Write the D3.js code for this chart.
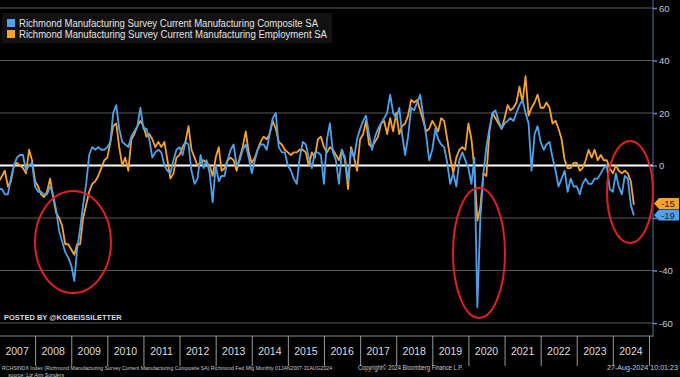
<!DOCTYPE html>
<html>
<head>
<meta charset="utf-8">
<script src="https://d3js.org/d3.v7.min.js"></script>
<style>
  body { margin: 0; background: #000; }
  svg { display: block; font-family: "Liberation Sans", Arial, sans-serif; }
</style>
</head>
<body>
<div id="chart"></div>
<script>
// ---- data ----
var years = d3.range(2007, 2025);
var yTicks = [60, 40, 20, 0, -20, -40, -60];
var seriesNames = [
  "Richmond Manufacturing Survey Current Manufacturing Composite SA",
  "Richmond Manufacturing Survey Current Manufacturing Employment SA"
];
// monthly, Jan 2007 - Aug 2024
var composite = [
  -9, -9, -11, -11, -5, 0, 3, 4, 4, -2, 0, 1,
  -8, -10, -10, -11, -11, -8, -11, -17, -25, -29, -33, -35,
  -38, -44, -32, -24, -15, -7, 4, 7, 6, 7, 6, 6,
  7, 9, 20, 23, 14, 9, 8, 7, 11, 13, 15, 22,
  14, 14, 10, 3, 5, 6, 5, 0, -2, -3, 2, 6,
  7, 4, 9, 8, -2, -7, -5, 4, -1, 2, -3, -14,
  0, -6, -4, -4, 2, 6, 8, 0, 2, 6, 8, 3,
  -3, 2, 6, 8, 8, 6, 12, 18, 20, 7, 5, 5,
  0, -2, -5, -7, 3, 9, 8, 3, -1, 5, 5, 4,
  -7, 10, 16, 5, 2, -7, 6, 3, -6, 6, 3, 10,
  14, 17, 19, 12, 6, 11, 14, 16, 18, 20, 27, 20,
  18, 22, 12, 4, 11, 22, 21, 24, 27, 19, 11, 2,
  6, 14, 10, 8, 7, 1, -7, -3, -8, 2, 5, 2,
  -1, -7, 3, -54, -20, -3, 7, 14, 20, 21, 17, 14,
  16, 17, 18, 17, 20, 23, 25, 20, 16, -2, 12, 15,
  9, 6, 8, 9, 3, -2, -8, -5, -2, -10, -5, -8,
  -8, -11, -7, -5, -7, -7, -5, -5, -3, -1, 0, -9,
  -10, -3, -8, -11, -4, -5, -15, -19
];
var employment = [
  -6, -4, -2, -8, -6, 0, 1, 0, -1, -3, 6, 2,
  -6, -8, -11, -12, -10, -5, -12, -18, -20, -23, -30, -30,
  -32, -34, -30, -30, -20, -15, -10, -7, -6, -4, -1, 2,
  3, 9, 15, 16, 7, 0, 3, -2, 10, 12, 15, 17,
  15, 11, 12, 10, 7, 9, 7, 9, 2, -5, -3, 3,
  4, 7, 9, 15, 6, 3, 0, 1, 2, 1, 0, -4,
  3, 7, -2, -1, 2, 3, 2, -2, 3, 7, 13, 5,
  1, 3, 6, 9, 11, 10, 12, 17, 14, 9, 8, 6,
  5, 4, 5, 5, 6, 6, 5, 0, 5, 3, 10, 11,
  7, 5, 7, 6, 4, 2, 6, 2, -9, 7, 3, -2,
  10, 12, 17, 8, 7, 9, 11, 16, 17, 12, 18, 13,
  20, 12, 15, 16, 19, 25, 24, 25, 21, 17, 13, 14,
  17, 15, 13, 18, 17, 10, 3, -3, 3, 6, 7, 6,
  16, 10, -1, -21, -16, -3, -4, 13, 20, 18, 16, 14,
  18, 23, 21, 22, 24, 30, 24, 34, 19, 22, 24, 27,
  22, 22, 24, 22, 16, 17, 14, 10, 2, -1, -1, 1,
  1, -2, -1, 2, 6, 3, 6, 2, 4, 2, 2, -1,
  -3, 0, -2, -3, -2, -3, -6, -15
];
var colors = ["#4ea2ec", "#f6a32c"];

// ---- chart ----
var width = 680, height = 377;
var svg = d3.select("#chart").append("svg")
  .attr("width", width).attr("height", height);

svg.append("rect").attr("width", width).attr("height", height).attr("fill", "#000");

var start = new Date(2007, 0, 1);
function monthDate(i) { return d3.timeMonth.offset(start, i); }

var x = d3.scaleTime()
  .domain([new Date(2007, 0, 1), new Date(2025, 0, 1)])
  .range([-1, 649]);
var y = d3.scaleLinear().domain([-60, 60]).range([323, 8]);
var yearBand = d3.scaleBand().domain(years).range([-1, 649]);

// grid
svg.append("g").selectAll("line")
  .data(yTicks.filter(function(d) { return d !== 0; }))
  .enter().append("line")
  .attr("x1", 0).attr("x2", 653)
  .attr("y1", function(d) { return y(d); }).attr("y2", function(d) { return y(d); })
  .attr("stroke", "#5a5a5a").attr("stroke-width", 1);

svg.append("line")
  .attr("x1", 0).attr("x2", 653)
  .attr("y1", y(0)).attr("y2", y(0))
  .attr("stroke", "#fff").attr("stroke-width", 2.2);

// right axis (the -20 label sits under the last-value tag)
var yAxis = svg.append("g")
  .attr("transform", "translate(653,0)")
  .call(d3.axisRight(y).tickValues(yTicks).tickSize(4).tickPadding(2)
    .tickFormat(function(d) { return d === -20 ? "" : String(d); }));
yAxis.select(".domain").attr("stroke", "#4b72b0").attr("d", "M0,0V337");
yAxis.selectAll(".tick line").attr("stroke", "#5b86cc").attr("stroke-width", 1.5);
yAxis.selectAll("text").attr("fill", "#c9c9c9").attr("font-size", 9.5);

// bottom axis: year separators + labels
svg.append("line").attr("x1", 0).attr("x2", 653).attr("y1", 336).attr("y2", 336)
  .attr("stroke", "#8a8a8a");
var xAxis = svg.append("g")
  .attr("transform", "translate(0,336)")
  .call(d3.axisBottom(x).ticks(d3.timeYear.every(1)).tickSize(30).tickFormat(""));
xAxis.select(".domain").remove();
xAxis.selectAll(".tick line").attr("stroke", "#9a9a9a");

var labelAxis = svg.append("g")
  .attr("transform", "translate(0,348)")
  .call(d3.axisBottom(yearBand).tickSize(0).tickPadding(0));
labelAxis.select(".domain").remove();
labelAxis.selectAll("text").attr("fill", "#dedede").attr("font-size", 10.5);

// lines
var line = d3.line()
  .x(function(d, i) { return x(monthDate(i)); })
  .y(function(d) { return y(d); });

svg.append("path")
  .datum(employment)
  .attr("fill", "none")
  .attr("stroke", colors[1])
  .attr("stroke-width", 1.8)
  .attr("stroke-linejoin", "round")
  .attr("d", line);
svg.append("path")
  .datum(composite)
  .attr("fill", "none")
  .attr("stroke", colors[0])
  .attr("stroke-width", 1.8)
  .attr("stroke-linejoin", "round")
  .attr("d", line);

// end value labels
var lastI = composite.length - 1;
var tags = [
  { v: employment[lastI], c: colors[1], cy: 203.5 },
  { v: composite[lastI], c: colors[0], cy: 215 }
];
tags.forEach(function(t) {
  var g = svg.append("g");
  g.append("path")
    .attr("d", "M654," + t.cy + "L659," + (t.cy - 5.5) + "H679V" + (t.cy + 5.5) + "H659Z")
    .attr("fill", t.c);
  g.append("text")
    .attr("x", 668).attr("y", t.cy + 3.5)
    .attr("text-anchor", "middle")
    .attr("font-size", 9.5)
    .attr("fill", "#1a1a1a")
    .text(t.v);
});

// legend
var lg = svg.append("g");
lg.append("rect").attr("x", 2).attr("y", 13).attr("width", 330).attr("height", 30)
  .attr("fill", "#121212");
seriesNames.forEach(function(n, i) {
  lg.append("rect").attr("x", 7).attr("y", 19 + i * 11).attr("width", 8).attr("height", 8)
    .attr("fill", colors[i]);
  lg.append("text").attr("x", 19).attr("y", 27 + i * 11)
    .attr("font-size", 10).attr("fill", "#e2e2e2")
    .attr("textLength", i === 0 ? 299 : 308).attr("lengthAdjust", "spacingAndGlyphs")
    .text(n);
});

// annotation ellipses
var rings = [
  { cx: 73, cy: 242, rx: 38, ry: 51 },
  { cx: 479, cy: 253, rx: 26, ry: 65 },
  { cx: 630, cy: 192, rx: 23, ry: 51 }
];
svg.append("g").selectAll("ellipse").data(rings).enter().append("ellipse")
  .attr("cx", function(d) { return d.cx; }).attr("cy", function(d) { return d.cy; })
  .attr("rx", function(d) { return d.rx; }).attr("ry", function(d) { return d.ry; })
  .attr("fill", "none").attr("stroke", "#e0201e").attr("stroke-width", 2);

// watermark
svg.append("text").attr("x", 4).attr("y", 320)
  .attr("font-size", 7.5).attr("font-weight", "bold").attr("fill", "#d4dae6")
  .text("POSTED BY @KOBEISSILETTER");

// footer
var foot = svg.append("g").attr("fill", "#cccccc");
foot.append("text").attr("x", 2).attr("y", 370).attr("font-size", 5.6)
  .attr("textLength", 330).attr("lengthAdjust", "spacingAndGlyphs")
  .text("RCHSINDX Index (Richmond Manufacturing Survey Current Manufacturing Composite SA) Richmond Fed Mfg  Monthly 01JAN2007-31AUG2024");
foot.append("text").attr("x", 358).attr("y", 370).attr("font-size", 6.3)
  .attr("textLength", 105).attr("lengthAdjust", "spacingAndGlyphs")
  .text("Copyright\u00a9 2024 Bloomberg Finance L.P.");
foot.append("text").attr("x", 607).attr("y", 370).attr("font-size", 6.5)
  .attr("textLength", 71).attr("lengthAdjust", "spacingAndGlyphs")
  .text("27-Aug-2024 10:01:23");
foot.append("text").attr("x", 8).attr("y", 376.5).attr("font-size", 6)
  .attr("font-style", "italic")
  .attr("textLength", 56).attr("lengthAdjust", "spacingAndGlyphs")
  .text("source: Liz Ann Sonders");
</script>
</body>
</html>
